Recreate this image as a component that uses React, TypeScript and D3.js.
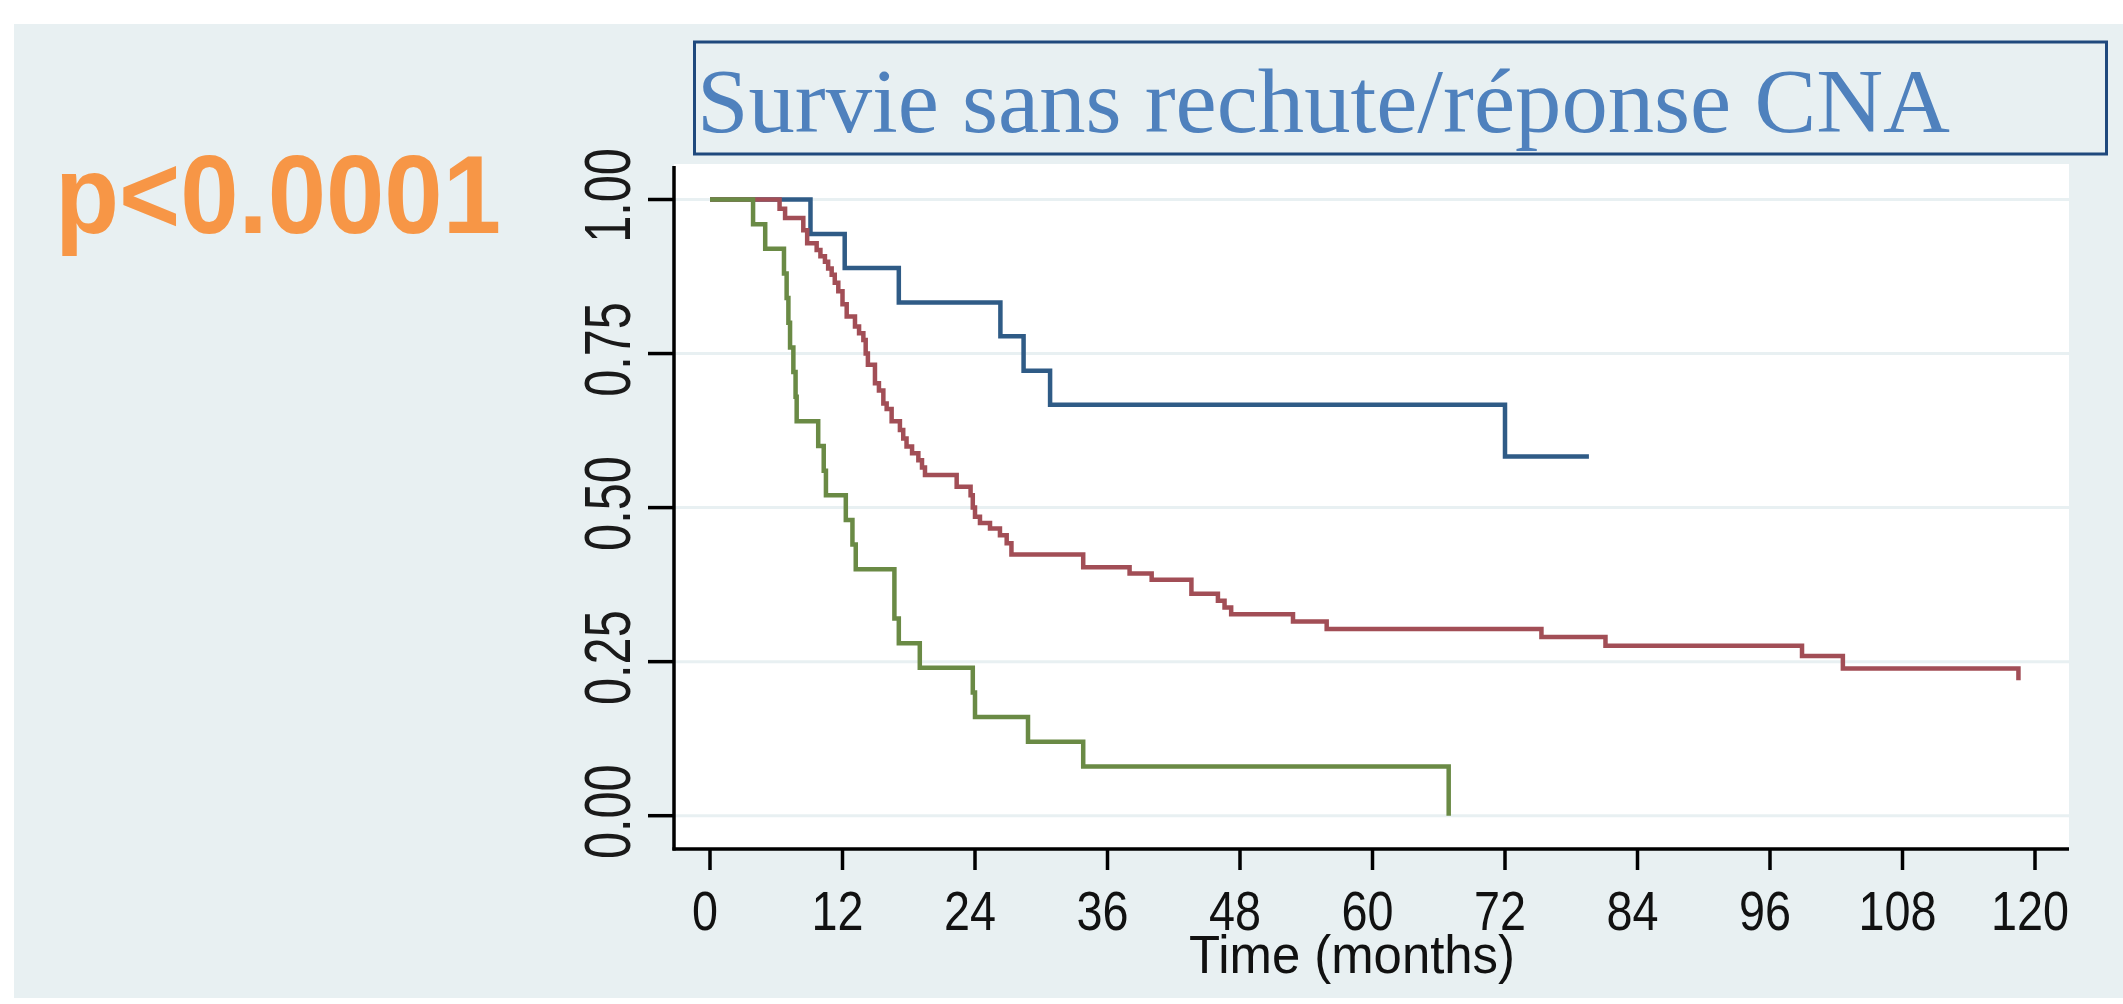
import React from 'react';
import * as d3 from 'd3';

// survival curves: time in months, survival probability
const blueTime = [0, 9.1, 12.2, 17.1, 26.3, 28.4, 30.8, 72.0, 79.6];
const blueSurv = [1, 0.944, 0.889, 0.833, 0.778, 0.722, 0.667, 0.583, 0.583];

const redTime = [0, 6.3, 6.8, 8.45, 8.8, 9.66, 10.0, 10.41, 10.7, 11.02, 11.3, 11.62, 12.0, 12.38, 13.13, 13.5, 13.89, 14.1, 14.3, 14.94,
  15.3, 15.7, 16.0, 16.45, 17.2, 17.5, 17.8, 18.3, 18.87, 19.2, 19.47, 22.34, 23.6, 23.8, 24.0, 24.45, 25.36, 26.26, 26.87, 27.3,
  33.8, 38.0, 40.0, 43.6, 46.0, 46.6, 47.2, 52.8, 55.85, 75.3, 81.1, 98.9, 102.6, 118.5];
const redSurv = [1, 0.985, 0.970, 0.950, 0.929, 0.918, 0.908, 0.899, 0.888, 0.878, 0.865, 0.851, 0.830, 0.810, 0.794, 0.783, 0.772, 0.750, 0.732, 0.702,
  0.690, 0.669, 0.660, 0.640, 0.626, 0.612, 0.599, 0.588, 0.577, 0.565, 0.553, 0.534, 0.520, 0.500, 0.485, 0.475, 0.466, 0.455, 0.442, 0.424,
  0.403, 0.393, 0.383, 0.360, 0.349, 0.338, 0.327, 0.315, 0.303, 0.290, 0.276, 0.259, 0.239, 0.220];

const greenTime = [0, 3.9, 5.0, 6.7, 6.94, 7.1, 7.25, 7.55, 7.75, 7.85, 9.8, 10.3, 10.5, 12.3, 12.9, 13.2, 16.7, 17.1, 19.0, 23.8, 24.0, 28.8, 33.8, 66.9];
const greenSurv = [1, 0.96, 0.92, 0.88, 0.84, 0.80, 0.76, 0.72, 0.68, 0.64, 0.60, 0.56, 0.52, 0.48, 0.44, 0.40, 0.32, 0.28, 0.24, 0.20, 0.16, 0.12, 0.08, 0];

const xTicks = [0, 12, 24, 36, 48, 60, 72, 84, 96, 108, 120];
const yTicks = [0, 0.25, 0.5, 0.75, 1];

const titleText = 'Survie sans rechute/réponse CNA';
const pText = 'p<0.0001';
const xTitle = 'Time (months)';

export default function App() {
  const W = 2123, H = 1004;
  const plot = { left: 674, right: 2069, top: 164, bottom: 849 };

  const x = d3.scaleLinear().domain([0, 120]).range([710, 2035]);
  const y = d3.scaleLinear().domain([0, 1]).range([815.7, 199.5]);

  const line = d3.line<[number, number]>()
    .x(d => x(d[0]))
    .y(d => y(d[1]))
    .curve(d3.curveStepAfter);

  const zip = (t: number[], s: number[]) => t.map((v, i) => [v, s[i]] as [number, number]);

  // drawn bottom to top: blue, red, green
  const series = [
    { key: 'blue', data: zip(blueTime, blueSurv), color: '#2f5b86' },
    { key: 'red', data: zip(redTime, redSurv), color: '#a24e56' },
    { key: 'green', data: zip(greenTime, greenSurv), color: '#6a8a45' },
  ];

  const fmt = d3.format('.2f');

  return (
    <svg width={W} height={H} style={{ position: 'absolute', left: 0, top: 0, background: '#fff' }}>
      <rect x={14} y={24} width={W - 14} height={998 - 24} fill="#e8f0f2" />

      {/* p value */}
      <text x={55} y={233} fontFamily="Liberation Sans, Arial, sans-serif" fontWeight="bold" fontSize={112}
        fill="#f79646" textLength={446} lengthAdjust="spacingAndGlyphs">{pText}</text>

      {/* title box */}
      <rect x={694.5} y={42} width={1412} height={112} fill="none" stroke="#1f497d" strokeWidth={3} />
      <text x={697} y={132} fontFamily="Liberation Serif, Times New Roman, serif" fontSize={90}
        fill="#4f81bd" textLength={1253} lengthAdjust="spacingAndGlyphs">{titleText}</text>

      {/* plot region */}
      <rect x={plot.left} y={plot.top} width={plot.right - plot.left} height={plot.bottom - plot.top} fill="#fff" />
      {yTicks.map(t => (
        <line key={'g' + t} x1={plot.left} x2={plot.right} y1={y(t)} y2={y(t)} stroke="#e8f0f2" strokeWidth={3} />
      ))}

      {series.map(s => (
        <path key={s.key} d={line(s.data) || ''} fill="none" stroke={s.color} strokeWidth={4.5} />
      ))}

      {/* axes */}
      <line x1={plot.left} x2={plot.left} y1={plot.top + 2} y2={plot.bottom + 1.5} stroke="#000" strokeWidth={3.5} />
      <line x1={plot.left - 1.5} x2={plot.right} y1={plot.bottom} y2={plot.bottom} stroke="#000" strokeWidth={3.5} />
      {yTicks.map(t => (
        <g key={'y' + t}>
          <line x1={648} x2={plot.left} y1={y(t)} y2={y(t)} stroke="#000" strokeWidth={3.5} />
          <text transform={`translate(630,${y(t) - 4}) rotate(-90) scale(0.76,1)`} textAnchor="middle"
            fontFamily="Liberation Sans, Arial, sans-serif" fontSize={64} fill="#1a1a1a">{fmt(t)}</text>
        </g>
      ))}
      {xTicks.map(t => (
        <g key={'x' + t}>
          <line x1={x(t)} x2={x(t)} y1={plot.bottom} y2={870} stroke="#000" strokeWidth={3.5} />
          <text transform={`translate(${x(t) - 5},930) scale(0.85,1)`} textAnchor="middle"
            fontFamily="Liberation Sans, Arial, sans-serif" fontSize={55} fill="#111">{t}</text>
        </g>
      ))}
      <text transform="translate(1352,973) scale(0.96,1)" textAnchor="middle"
        fontFamily="Liberation Sans, Arial, sans-serif" fontSize={53} fill="#111">{xTitle}</text>
    </svg>
  );
}
